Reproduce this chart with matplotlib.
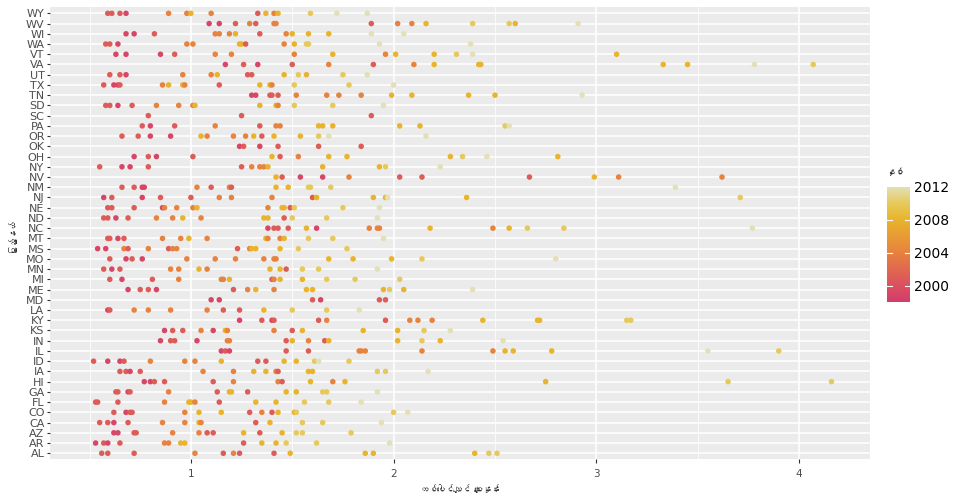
import numpy as np
import matplotlib
matplotlib.use("Agg")
import matplotlib.pyplot as plt
from matplotlib import font_manager, ft2font
from matplotlib.colors import LinearSegmentedColormap, Normalize

# honey price per lb by state, colored by year
states = ["AL", "AR", "AZ", "CA", "CO", "FL", "GA", "HI", "IA", "ID", "IL",
          "IN", "KS", "KY", "LA", "MD", "ME", "MI", "MN", "MO", "MS", "MT",
          "NC", "ND", "NE", "NJ", "NM", "NV", "NY", "OH", "OK", "OR", "PA",
          "SC", "SD", "TN", "TX", "UT", "VA", "VT", "WA", "WI", "WV", "WY"]

prices = [
    [0.56, 0.59, 0.72, 1.02, 1.16, 1.21, 1.24, 1.41, 1.49, 1.86, 1.90, 2.40, 2.47, 2.51],  # AL
    [0.53, 0.57, 0.59, 0.65, 0.87, 0.89, 0.95, 0.97, 1.26, 1.35, 1.42, 1.47, 1.62, 1.98],  # AR
    [0.62, 0.64, 0.72, 0.73, 0.91, 1.04, 1.08, 1.11, 1.26, 1.34, 1.45, 1.52, 1.55, 1.79],  # AZ
    [0.55, 0.59, 0.62, 0.69, 0.86, 0.97, 1.04, 1.05, 1.32, 1.39, 1.55, 1.65, 1.94],  # CA
    [0.62, 0.68, 0.70, 0.71, 0.97, 1.04, 1.15, 1.29, 1.35, 1.40, 1.43, 1.51, 1.52, 2.00, 2.07],  # CO
    [0.53, 0.54, 0.64, 0.87, 0.99, 1.00, 1.02, 1.14, 1.32, 1.42, 1.56, 1.68, 1.84],  # FL
    [0.63, 0.64, 0.69, 0.70, 0.89, 1.13, 1.19, 1.20, 1.28, 1.47, 1.52, 1.65, 1.67, 1.92],  # GA
    [0.77, 0.80, 0.82, 0.87, 1.11, 1.21, 1.43, 1.45, 1.59, 1.70, 1.76, 2.75, 3.65, 4.16],  # HI
    [0.65, 0.68, 0.70, 0.75, 1.06, 1.21, 1.31, 1.37, 1.42, 1.43, 1.58, 1.60, 1.92, 1.96, 2.17],  # IA
    [0.52, 0.59, 0.65, 0.67, 0.80, 0.97, 1.02, 1.15, 1.33, 1.37, 1.46, 1.52, 1.61, 1.63, 1.78],  # ID
    [1.15, 1.17, 1.19, 1.47, 1.58, 1.83, 1.84, 1.86, 2.14, 2.49, 2.55, 2.59, 2.78, 3.55, 3.90],  # IL
    [0.85, 0.90, 0.92, 1.03, 1.18, 1.19, 1.47, 1.50, 1.58, 1.66, 1.68, 2.02, 2.14, 2.23, 2.54],  # IN
    [0.87, 0.91, 0.96, 1.05, 1.11, 1.17, 1.18, 1.41, 1.50, 1.55, 1.85, 2.02, 2.15, 2.28],  # KS
    [1.24, 1.35, 1.40, 1.41, 1.63, 1.67, 1.96, 2.08, 2.12, 2.19, 2.44, 2.71, 2.72, 3.15, 3.17],  # KY
    [0.59, 0.60, 0.72, 0.79, 0.90, 1.08, 1.16, 1.24, 1.36, 1.50, 1.67, 1.83],  # LA
    [1.10, 1.14, 1.60, 1.64, 1.93, 1.96],  # MD
    [0.69, 0.75, 0.79, 0.83, 1.21, 1.28, 1.32, 1.41, 1.57, 1.60, 1.95, 1.98, 2.05, 2.39],  # ME
    [0.60, 0.66, 0.81, 0.94, 1.15, 1.16, 1.19, 1.40, 1.41, 1.44, 1.55, 1.67, 1.81, 2.03],  # MI
    [0.57, 0.61, 0.65, 0.90, 0.94, 1.04, 1.08, 1.39, 1.44, 1.47, 1.55, 1.63, 1.92],  # MN
    [0.60, 0.68, 0.71, 0.76, 0.98, 1.12, 1.22, 1.36, 1.41, 1.42, 1.68, 1.80, 1.99, 2.14, 2.80],  # MO
    [0.54, 0.58, 0.67, 0.69, 0.79, 0.89, 0.91, 0.93, 1.23, 1.29, 1.30, 1.32, 1.44, 1.53, 1.77],  # MS
    [0.59, 0.60, 0.64, 0.67, 0.86, 0.95, 0.99, 1.08, 1.37, 1.38, 1.44, 1.46, 1.58, 1.70, 1.95],  # MT
    [1.38, 1.41, 1.43, 1.48, 1.57, 1.62, 1.88, 1.92, 1.93, 2.18, 2.49, 2.57, 2.66, 2.84, 3.77],  # NC
    [0.57, 0.59, 0.63, 0.69, 0.83, 0.91, 0.96, 1.05, 1.36, 1.38, 1.46, 1.50, 1.67, 1.92],  # ND
    [0.59, 0.61, 0.72, 0.86, 0.87, 0.93, 1.01, 1.03, 1.38, 1.45, 1.46, 1.49, 1.51, 1.75, 1.93],  # NE
    [0.57, 0.61, 0.76, 0.85, 1.00, 1.14, 1.20, 1.40, 1.60, 1.62, 1.90, 1.96, 1.97, 2.36, 3.71],  # NJ
    [0.66, 0.72, 0.76, 0.77, 1.03, 1.10, 1.19, 1.20, 1.42, 1.48, 1.58, 1.59, 1.69, 3.39],  # NM
    [1.42, 1.45, 1.54, 1.65, 1.78, 2.03, 2.14, 2.67, 2.99, 3.11, 3.62],  # NV
    [0.55, 0.66, 0.70, 0.79, 1.25, 1.30, 1.34, 1.36, 1.38, 1.65, 1.93, 1.96, 2.23],  # NY
    [0.72, 0.79, 0.83, 1.01, 1.40, 1.44, 1.53, 1.68, 1.77, 2.28, 2.34, 2.46, 2.81],  # OH
    [1.24, 1.26, 1.34, 1.43, 1.63, 1.84],  # OK
    [0.66, 0.74, 0.80, 0.90, 1.05, 1.08, 1.21, 1.27, 1.31, 1.35, 1.41, 1.54, 1.63, 1.68, 2.16],  # OR
    [0.76, 0.80, 0.92, 1.12, 1.34, 1.42, 1.44, 1.63, 1.65, 1.70, 2.03, 2.13, 2.55, 2.57],  # PA
    [0.79, 1.25, 1.89],  # SC
    [0.58, 0.60, 0.64, 0.71, 0.83, 0.94, 1.01, 1.02, 1.34, 1.42, 1.43, 1.51, 1.70, 1.95],  # SD
    [1.30, 1.32, 1.39, 1.40, 1.43, 1.52, 1.67, 1.73, 1.84, 1.99, 2.09, 2.37, 2.50, 2.93],  # TN
    [0.57, 0.62, 0.64, 0.65, 0.86, 0.89, 0.96, 0.97, 1.14, 1.34, 1.39, 1.40, 1.51, 1.78, 2.00],  # TX
    [0.60, 0.65, 0.68, 0.96, 1.10, 1.13, 1.28, 1.30, 1.46, 1.53, 1.57, 1.75, 1.87],  # UT
    [1.17, 1.26, 1.33, 1.50, 1.68, 1.90, 2.10, 2.20, 2.42, 2.43, 3.33, 3.45, 3.78, 4.07],  # VA
    [0.63, 0.68, 0.85, 0.92, 1.12, 1.20, 1.51, 1.70, 1.96, 2.01, 2.20, 2.31, 2.39, 3.10],  # VT
    [0.58, 0.60, 0.64, 0.98, 1.01, 1.24, 1.25, 1.27, 1.46, 1.51, 1.57, 1.58, 1.93, 2.38],  # WA
    [0.68, 0.72, 0.82, 1.12, 1.14, 1.19, 1.22, 1.34, 1.47, 1.50, 1.58, 1.68, 1.89, 2.05],  # WI
    [1.09, 1.14, 1.22, 1.29, 1.32, 1.41, 1.42, 1.89, 2.02, 2.09, 2.16, 2.39, 2.57, 2.60, 2.91],  # WV
    [0.59, 0.61, 0.65, 0.68, 0.89, 0.98, 1.00, 1.10, 1.33, 1.37, 1.41, 1.43, 1.59, 1.72, 1.87],  # WY
]

years = [
    [2001, 2001, 2001, 2004, 2001, 2004, 2001, 2001, 2008, 2008, 2008, 2008, 2010, 2010],  # AL
    [1999, 2001, 1999, 2001, 2004, 2004, 2008, 2008, 2001, 2008, 2008, 2010, 2010, 2012],  # AR
    [1999, 1999, 2001, 2001, 2004, 2004, 2001, 2001, 2008, 2001, 2008, 2010, 2010, 2010],  # AZ
    [2001, 2001, 1999, 2001, 2004, 2004, 2008, 2004, 2001, 2008, 2010, 2010, 2012],  # CA
    [2001, 1999, 2001, 2001, 2004, 2008, 2008, 2001, 2004, 2001, 2008, 2008, 2010, 2010, 2012],  # CO
    [2001, 2001, 2001, 2004, 2008, 2008, 2004, 2001, 2008, 2008, 2010, 2010, 2012],  # FL
    [2001, 2001, 1999, 2001, 2004, 2001, 2008, 2008, 2001, 2008, 2008, 2010, 2010, 2012],  # GA
    [1999, 1999, 2001, 2001, 2001, 2004, 2004, 2001, 2008, 2004, 2008, 2008, 2010, 2010],  # HI
    [2001, 2001, 1999, 2001, 2004, 2004, 2008, 2008, 2004, 2001, 2008, 2008, 2010, 2010, 2012],  # IA
    [2001, 1999, 1999, 2001, 2004, 2004, 2004, 2008, 2001, 2001, 2008, 2008, 2010, 2012, 2010],  # ID
    [1999, 2001, 1999, 2001, 2001, 2004, 2004, 2004, 2004, 2004, 2008, 2008, 2008, 2012, 2010],  # IL
    [1999, 2001, 2001, 1999, 2004, 2004, 2001, 2008, 2004, 2001, 2008, 2008, 2010, 2008, 2012],  # IN
    [1999, 2001, 2001, 2004, 1999, 2008, 2004, 2004, 2001, 2008, 2008, 2008, 2010, 2012],  # KS
    [1999, 2001, 1999, 2001, 2001, 2004, 2001, 2004, 2004, 2004, 2008, 2008, 2008, 2010, 2010],  # KY
    [1999, 2001, 2004, 2004, 2004, 2004, 2001, 2001, 2008, 2010, 2010, 2012],  # LA
    [1999, 1999, 2001, 1999, 2001, 2001],  # MD
    [1999, 2001, 2001, 1999, 2001, 2004, 2008, 2004, 2008, 2008, 2008, 2010, 2008, 2012],  # ME
    [2001, 1999, 2001, 2004, 2004, 2004, 2008, 2001, 2004, 2008, 2008, 2010, 2010, 2010],  # MI
    [2001, 1999, 2001, 2004, 2004, 2008, 2004, 2008, 2008, 2001, 2010, 2010, 2012],  # MN
    [2001, 1999, 2001, 1999, 2004, 2004, 2004, 2004, 2004, 2004, 2008, 2008, 2008, 2010, 2012],  # MO
    [1999, 1999, 2004, 2001, 2004, 2001, 2004, 2004, 2001, 2004, 2008, 2008, 2008, 2010, 2010],  # MS
    [2001, 2001, 1999, 2001, 2004, 2004, 2008, 2004, 2008, 2004, 2004, 2008, 2010, 2010, 2012],  # MT
    [1999, 2001, 2001, 2001, 2008, 1999, 2004, 2004, 2004, 2008, 2004, 2008, 2010, 2010, 2012],  # NC
    [2001, 2001, 1999, 2001, 2004, 2004, 2008, 2004, 2008, 2008, 2001, 2010, 2010, 2012],  # ND
    [2001, 2001, 2001, 1999, 2004, 2004, 2004, 2008, 2004, 2008, 2008, 2001, 2010, 2010, 2012],  # NE
    [1999, 2001, 1999, 2001, 2001, 2004, 2004, 2004, 2001, 2008, 2008, 2008, 2012, 2008, 2010],  # NJ
    [2001, 2001, 1999, 1999, 2004, 2001, 2004, 2001, 2008, 2008, 2010, 2010, 2010, 2012],  # NM
    [2008, 2001, 1999, 1999, 2004, 2001, 2001, 2001, 2008, 2004, 2004],  # NV
    [2001, 1999, 1999, 2001, 2001, 2004, 2004, 2004, 2008, 2008, 2008, 2010, 2012],  # NY
    [1999, 2001, 1999, 2001, 2008, 2001, 2004, 2008, 2008, 2008, 2010, 2012, 2008],  # OH
    [1999, 2001, 1999, 2001, 2001, 2001],  # OK
    [2001, 2001, 1999, 1999, 2008, 2004, 2004, 2004, 2008, 2001, 2008, 2008, 2010, 2012, 2012],  # OR
    [2001, 1999, 2001, 2004, 2001, 2004, 2004, 2008, 2008, 2008, 2008, 2008, 2010, 2012],  # PA
    [2001, 2001, 2001],  # SC
    [2001, 2001, 1999, 2001, 2004, 2004, 2004, 2008, 2008, 2008, 2004, 2010, 2010, 2012],  # SD
    [1999, 1999, 2001, 2001, 2001, 2004, 2004, 2004, 2004, 2008, 2008, 2008, 2008, 2012],  # TN
    [2001, 1999, 1999, 2001, 2004, 2008, 2008, 2004, 2001, 2008, 2008, 2004, 2010, 2010, 2012],  # TX
    [2001, 2001, 1999, 2004, 2004, 2008, 2001, 2001, 2008, 2010, 2008, 2010, 2012],  # UT
    [1999, 2001, 1999, 2001, 2004, 2001, 2004, 2008, 2008, 2008, 2008, 2008, 2012, 2010],  # VA
    [1999, 1999, 1999, 2001, 2004, 2004, 2004, 2008, 2004, 2008, 2008, 2010, 2012, 2008],  # VT
    [2001, 2001, 1999, 2004, 2004, 2008, 2008, 2001, 2004, 2008, 2010, 2010, 2012, 2012],  # WA
    [1999, 1999, 2001, 2004, 2004, 2004, 2008, 2001, 2004, 2008, 2008, 2008, 2012, 2012],  # WI
    [1999, 1999, 2001, 2004, 2001, 2004, 2004, 2001, 2004, 2004, 2008, 2010, 2010, 2008, 2012],  # WV
    [2001, 2001, 2001, 1999, 2004, 2004, 2008, 2004, 2001, 2008, 2004, 2008, 2010, 2012, 2012],  # WY
]

year_ticks = [2000, 2004, 2008, 2012]
x_label = "တစ်ပေါင်လျှင် စျေးနှုန်း"
y_label = "ပြည်နယ်"
legend_title = "နှစ်"


# look for any installed font that covers Myanmar script
def find_myanmar_family():
    seen = set()
    for f in font_manager.fontManager.ttflist:
        if f.fname in seen:
            continue
        seen.add(f.fname)
        try:
            cm = ft2font.FT2Font(f.fname).get_charmap()
        except Exception:
            continue
        if 0x1015 in cm and 0x103A in cm:
            return f.name
    return None


mm = find_myanmar_family()
mm_family = [mm, "DejaVu Sans"] if mm else ["DejaVu Sans"]

cmap = LinearSegmentedColormap.from_list("honey", [
    (0.0, "#d43d6b"), (0.143, "#db5060"), (0.43, "#e7823f"),
    (0.714, "#e9b42c"), (0.857, "#e7c95a"), (1.0, "#e3e0b6")])
norm = Normalize(1998, 2012)

fig = plt.figure(figsize=(9.6, 5.04), dpi=100)
ax = fig.add_axes([50 / 960, 1 - 459.4 / 504, 820 / 960, 452.2 / 504])
ax.set_facecolor("#ebebeb")

for i, st in enumerate(states):
    ax.scatter(prices[i], [i] * len(prices[i]), c=years[i], cmap=cmap, norm=norm,
               s=16, linewidths=0, zorder=3)

ax.set_xlim(0.305, 4.35)
ax.set_ylim(-0.6, len(states) - 0.4)
ax.set_yticks(range(len(states)))
ax.set_yticklabels(states)
ax.set_xticks([1, 2, 3, 4])
ax.set_xticks([0.5, 1.5, 2.5, 3.5], minor=True)
ax.grid(True, which="major", color="white", linewidth=1.1, zorder=0)
ax.grid(True, which="minor", axis="x", color="white", linewidth=0.55, zorder=0)
ax.set_axisbelow(True)
for sp in ax.spines.values():
    sp.set_visible(False)
ax.tick_params(axis="y", which="major", length=2.5, width=0.8, color="#333333",
               labelsize=8, labelcolor="#4d4d4d", pad=1.5)
ax.tick_params(axis="x", which="major", length=3, width=0.8, color="#333333",
               labelsize=7.5, labelcolor="#4d4d4d", pad=4)
ax.tick_params(axis="x", which="minor", length=0)

fig.text(460 / 960, 1 - 489 / 504, x_label, ha="center", va="center", fontsize=6,
         color="#333333", family=mm_family)
fig.text(12 / 960, 1 - 235 / 504, y_label, ha="center", va="center", rotation=90,
         fontsize=6, color="#333333", family=mm_family)

# colour legend
cax = fig.add_axes([887 / 960, 1 - 302 / 504, 23 / 960, 115 / 504])
grad = np.linspace(1998, 2012, 256).reshape(-1, 1)
cax.imshow(grad, aspect="auto", cmap=cmap, norm=norm, origin="lower",
           extent=[0, 1, 1998, 2012])
cax.set_xlim(0, 1)
cax.set_ylim(1998, 2012)
for yv in year_ticks[:-1]:
    cax.plot([0, 0.2], [yv, yv], color="white", linewidth=0.8)
    cax.plot([0.8, 1], [yv, yv], color="white", linewidth=0.8)
cax.set_xticks([])
cax.yaxis.tick_right()
cax.set_yticks(year_ticks)
cax.set_yticklabels([str(y) for y in year_ticks])
cax.tick_params(axis="y", length=0, labelsize=10, pad=3, labelcolor="black")
for sp in cax.spines.values():
    sp.set_visible(False)
fig.text(885 / 960, 1 - 172 / 504, legend_title, ha="left", va="center", fontsize=6.5,
         color="#333333", family=mm_family)

fig.savefig("out.png", dpi=100)
